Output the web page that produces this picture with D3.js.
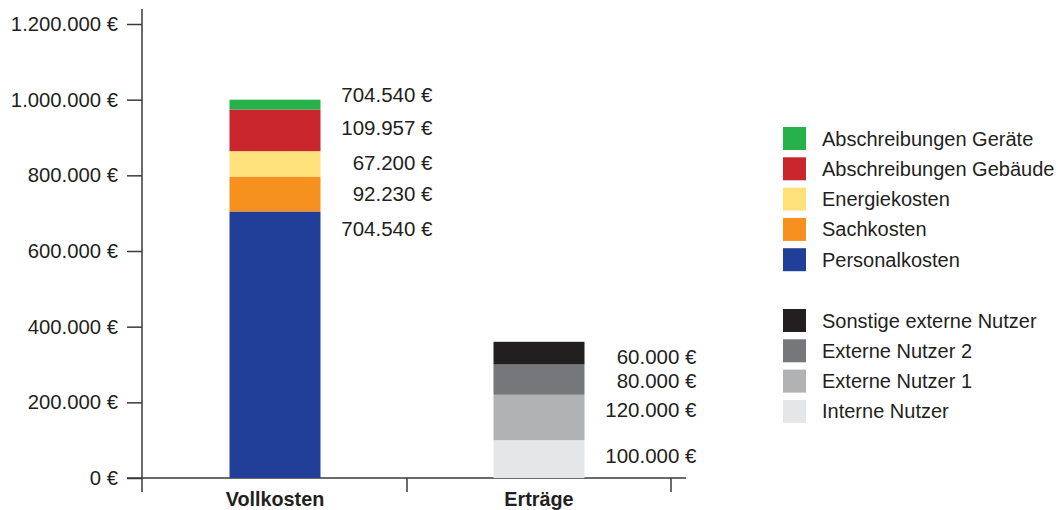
<!DOCTYPE html>
<html>
<head>
<meta charset="utf-8">
<script src="https://cdn.jsdelivr.net/npm/d3@7"></script>
<style>
  html, body { margin: 0; padding: 0; background: #fff; }
  svg { display: block; font-family: "Liberation Sans", Arial, sans-serif; }
  text { fill: #231f20; }
</style>
</head>
<body>
<svg id="chart" width="1058" height="510"></svg>
<script>
// Categories on the x axis
const categories = ["Vollkosten", "Erträge"];

// Cost side (bottom to top)
const costSeries = ["Personalkosten", "Sachkosten", "Energiekosten", "Abschreibungen Gebäude", "Abschreibungen Geräte"];
const costValues = [704540, 92230, 67200, 109957, 26073];
const costLabels = ["704.540 €", "92.230 €", "67.200 €", "109.957 €", "704.540 €"];
const costColors = ["#213f99", "#f6911f", "#fee17a", "#c8252c", "#26b14b"];

// Revenue side (bottom to top)
const revenueSeries = ["Interne Nutzer", "Externe Nutzer 1", "Externe Nutzer 2", "Sonstige externe Nutzer"];
const revenueValues = [100000, 120000, 80000, 60000];
const revenueColors = ["#e5e6e7", "#b1b2b4", "#76777a", "#231f20"];

// Y axis ticks
const yTicks = [0, 200000, 400000, 600000, 800000, 1000000, 1200000];

const de = d3.formatLocale({ decimal: ",", thousands: ".", grouping: [3], currency: ["", " €"] });
const fmt = de.format("$,.0f");

const svg = d3.select("#chart");
const FS = 20;

const y = d3.scaleLinear().domain([0, 1200000]).range([478, 24]);
const x = d3.scaleBand().domain(categories).range([143, 671]).paddingInner(0);
const barW = 91;
const axisColor = "#3a3a3a";

// Y axis
const yAxis = d3.axisLeft(y).tickValues(yTicks).tickSize(15).tickPadding(9).tickFormat(fmt);
const gy = svg.append("g").attr("transform", "translate(142,0)").call(yAxis);
gy.select(".domain").remove();
gy.selectAll(".tick line").attr("stroke", axisColor).attr("stroke-width", 1.5);
gy.selectAll(".tick text").attr("font-size", 20.3).attr("font-family", "Liberation Sans, Arial, sans-serif").attr("fill", "#231f20");

svg.append("line").attr("x1", 142).attr("x2", 142).attr("y1", 9).attr("y2", 492)
  .attr("stroke", axisColor).attr("stroke-width", 1.5);

// X axis baseline and band boundary ticks
svg.append("line").attr("x1", 127).attr("x2", 686).attr("y1", y(0)).attr("y2", y(0))
  .attr("stroke", axisColor).attr("stroke-width", 1.5);
categories.forEach(c => {
  const bx = x(c) + x.bandwidth();
  svg.append("line").attr("x1", bx).attr("x2", bx).attr("y1", y(0)).attr("y2", y(0) + 14)
    .attr("stroke", axisColor).attr("stroke-width", 1.5);
});
// category labels
svg.append("g").selectAll("text").data(categories).join("text")
  .attr("x", d => x(d) + x.bandwidth() / 2)
  .attr("y", 506)
  .attr("text-anchor", "middle")
  .attr("font-weight", "bold")
  .attr("font-size", 19.8)
  .text(d => d);

// Stacked bars
function drawStack(cat, values, colors, labels, nudges) {
  const cx = x(cat) + x.bandwidth() / 2;
  let acc = 0;
  const segs = values.map((v, i) => { const s = { v, i, y0: acc, y1: acc + v }; acc += v; return s; });
  const g = svg.append("g");
  g.selectAll("rect").data(segs).join("rect")
    .attr("x", cx - barW / 2)
    .attr("width", barW)
    .attr("y", d => y(d.y1))
    .attr("height", d => y(d.y0) - y(d.y1))
    .attr("fill", d => colors[d.i]);
  // value labels: near segment top, or centred for short segments
  g.selectAll("text").data(segs).join("text")
    .attr("x", cx + barW / 2 + 112)
    .attr("y", d => Math.min(y(d.y1) + 17, (y(d.y0) + y(d.y1)) / 2) + nudges[d.i])
    .attr("dy", "0.35em")
    .attr("text-anchor", "end")
    .attr("font-size", 20.5)
    .text(d => labels[d.i]);
}

drawStack("Vollkosten", costValues, costColors, costLabels, [0, 0, -1, 1, -10]);
drawStack("Erträge", revenueValues, revenueColors, revenueValues.map(fmt), [-1, -2, 1, 4]);

// Legend
function legend(series, colors, top) {
  const order = series.map((s, i) => i).reverse();
  const g = svg.append("g");
  const rows = g.selectAll("g").data(order).join("g")
    .attr("transform", (d, k) => `translate(783,${top + k * 30.3})`);
  rows.append("rect").attr("width", 23).attr("height", 23).attr("fill", d => colors[d]);
  rows.append("text").attr("x", 39).attr("y", 11.5).attr("dy", "0.35em")
    .attr("font-size", FS).text(d => series[d]);
}
legend(costSeries, costColors, 127);
legend(revenueSeries, revenueColors, 309);
</script>
</body>
</html>
